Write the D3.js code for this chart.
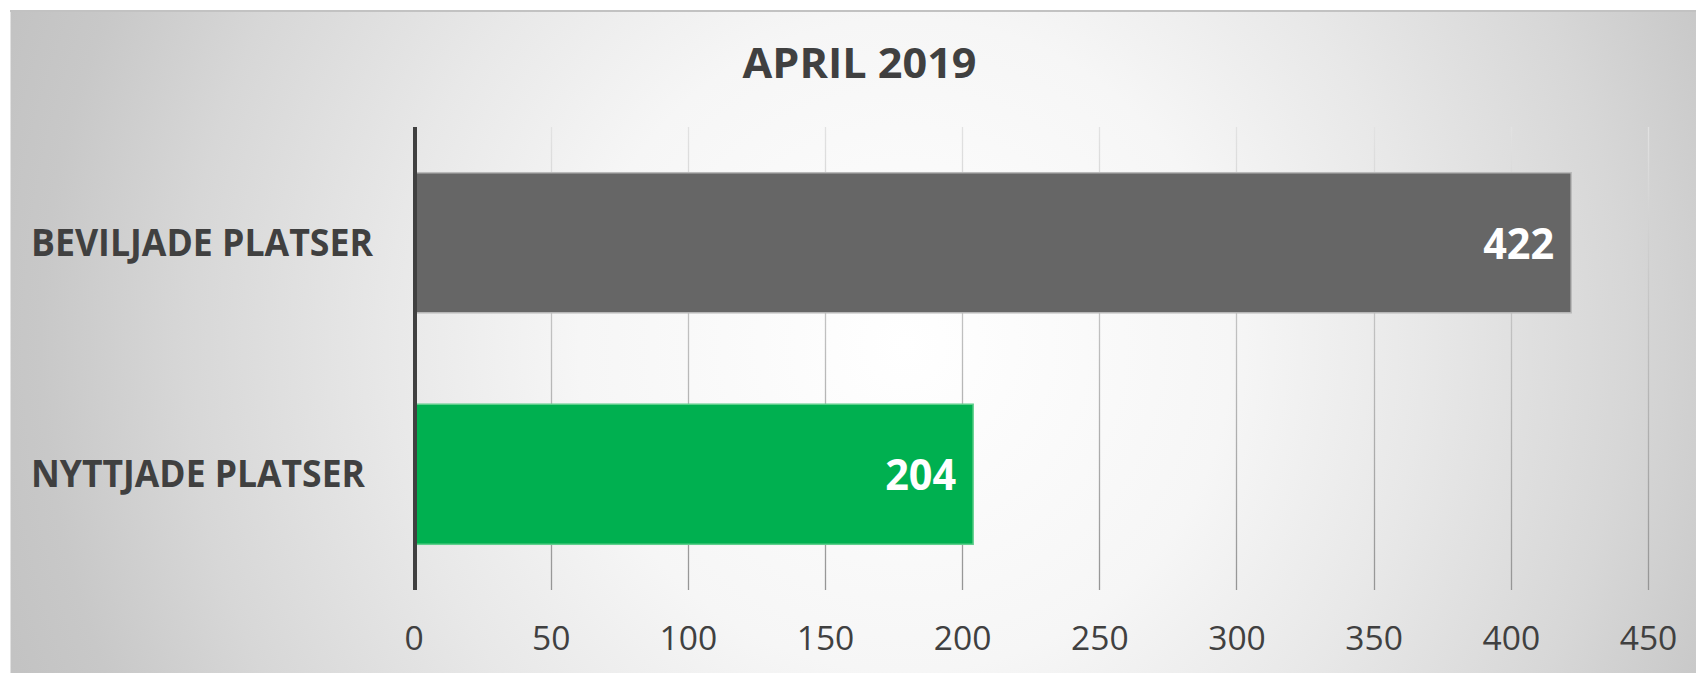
<!DOCTYPE html>
<html>
<head>
<meta charset="utf-8">
<script src="https://cdn.jsdelivr.net/npm/d3@7"></script>
<style>
  html, body { margin: 0; padding: 0; background: #ffffff; }
  svg { display: block; }
</style>
</head>
<body>
<svg id="chart" width="1696" height="673"></svg>
<script>
// ---- data ----
const title = "APRIL 2019";
const categories = ["BEVILJADE PLATSER", "NYTTJADE PLATSER"];
const values = [422, 204];
const barColors = ["#666666", "#00B050"];
const tickValues = [0, 50, 100, 150, 200, 250, 300, 350, 400, 450];

// ---- layout ----
const W = 1696, H = 673;
const svg = d3.select("#chart");
const defs = svg.append("defs");

const bg = defs.append("radialGradient").attr("id", "bg")
  .attr("gradientUnits", "userSpaceOnUse")
  .attr("cx", 905).attr("cy", 345).attr("r", 960);
[[0, "#ffffff"], [0.34, "#f6f6f6"], [0.54, "#e8e8e8"], [0.75, "#d7d7d7"], [0.9, "#c8c8c8"], [1, "#c2c2c2"]]
  .forEach(([o, c]) => bg.append("stop").attr("offset", o).attr("stop-color", c));

const gg = defs.append("linearGradient").attr("id", "grid")
  .attr("gradientUnits", "userSpaceOnUse")
  .attr("x1", 0).attr("y1", 127).attr("x2", 0).attr("y2", 590);
gg.append("stop").attr("offset", 0).attr("stop-color", "#e2e2e2");
gg.append("stop").attr("offset", 1).attr("stop-color", "#959595");

// panel
svg.append("rect").attr("x", 10.5).attr("y", 10.5).attr("width", W - 10.5).attr("height", H - 10.5)
  .attr("fill", "url(#bg)");
svg.append("line").attr("x1", 10).attr("x2", W).attr("y1", 11).attr("y2", 11)
  .attr("stroke", "#c2c2c2").attr("stroke-width", 2);

const plotTop = 127, plotBottom = 590;
const x = d3.scaleLinear().domain([0, 450]).range([413.5, 1648]);
const y = d3.scaleBand().domain(categories).range([plotTop, plotBottom])
  .paddingInner(0.395).paddingOuter(0.1975);

// gridlines
svg.append("g").selectAll("line").data(tickValues.slice(1)).join("line")
  .attr("x1", d => Math.round(x(d)) + 0.5).attr("x2", d => Math.round(x(d)) + 0.5)
  .attr("y1", plotTop).attr("y2", plotBottom)
  .attr("stroke", "url(#grid)").attr("stroke-width", 1.3);

// x axis labels
const xAxis = d3.axisBottom(x).tickValues(tickValues).tickSize(0).tickPadding(0);
const ax = svg.append("g").attr("transform", `translate(0,${plotBottom})`).call(xAxis);
ax.select(".domain").remove();
ax.selectAll("text")
  .attr("dy", null).attr("y", 60)
  .attr("font-family", "'Open Sans', 'Noto Sans', sans-serif")
  .attr("font-size", 33.6).attr("fill", "#404040");

// bars
const data = categories.map((c, i) => ({ c, v: values[i], col: barColors[i] }));
svg.append("g").selectAll("rect").data(data).join("rect")
  .attr("x", x(0) + 1).attr("y", d => y(d.c))
  .attr("width", d => x(d.v) - x(0) - 1).attr("height", y.bandwidth())
  .attr("fill", d => d.col)
  .attr("stroke", (d, i) => i === 0 ? "#b9b9b9" : "#5fcf8c").attr("stroke-width", 1.5);

// value labels
svg.append("g").selectAll("text").data(data).join("text")
  .attr("x", d => x(d.v) - 17).attr("y", d => y(d.c) + y.bandwidth() / 2 + 16)
  .attr("text-anchor", "end")
  .attr("font-family", "'Open Sans', 'Noto Sans', sans-serif")
  .attr("font-weight", "bold").attr("font-size", 43).attr("fill", "#ffffff")
  .attr("textLength", 71).attr("lengthAdjust", "spacingAndGlyphs")
  .text(d => d.v);

// y axis line
svg.append("line").attr("x1", 415).attr("x2", 415).attr("y1", plotTop).attr("y2", plotBottom)
  .attr("stroke", "#404040").attr("stroke-width", 4);

// category labels
const catWidths = [342, 334];
svg.append("g").selectAll("text").data(categories).join("text")
  .attr("x", 31).attr("y", d => y(d) + y.bandwidth() / 2 + 13)
  .attr("font-family", "'Open Sans', 'Noto Sans', sans-serif")
  .attr("font-weight", "bold").attr("font-size", 37.5).attr("fill", "#404040")
  .attr("textLength", (d, i) => catWidths[i]).attr("lengthAdjust", "spacingAndGlyphs")
  .text(d => d);

// title
svg.append("text").attr("x", 859.5).attr("y", 78).attr("text-anchor", "middle")
  .attr("font-family", "'Open Sans', 'Noto Sans', sans-serif")
  .attr("font-weight", "bold").attr("font-size", 42).attr("fill", "#404040")
  .attr("textLength", 234).attr("lengthAdjust", "spacingAndGlyphs")
  .text(title);
</script>
</body>
</html>
